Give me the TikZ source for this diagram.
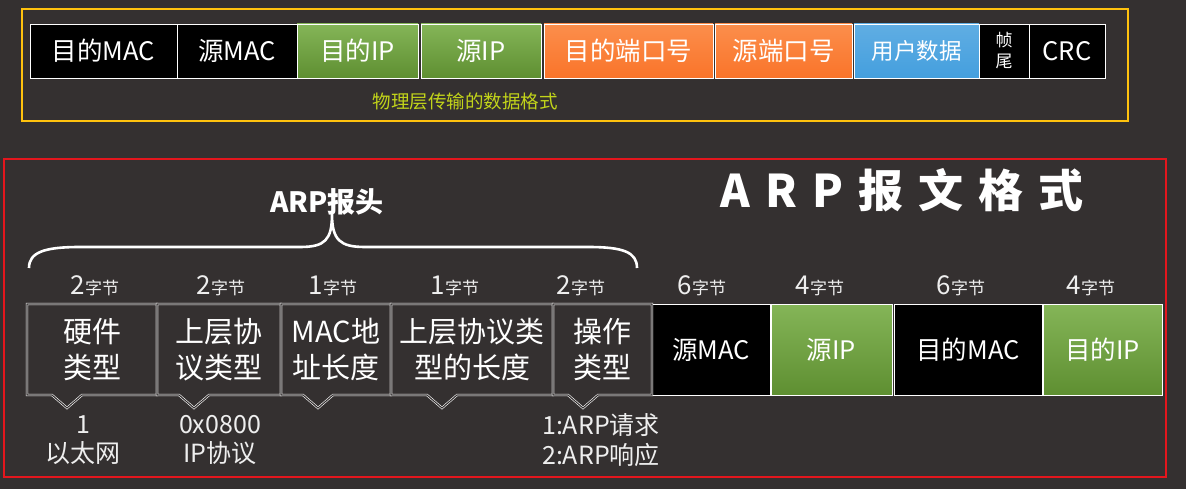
\documentclass[tikz,border=0pt]{standalone}
\usepackage{fontspec}
\setmainfont{Noto Sans CJK SC}
\usetikzlibrary{positioning, calc}
\definecolor{bg}{HTML}{343030}
\definecolor{ipgreen}{HTML}{6FA83A}
\definecolor{portorange}{HTML}{FA7A2C}
\definecolor{datablue}{HTML}{449FDE}
\definecolor{framey}{HTML}{FFC20E}
\definecolor{framer}{HTML}{E3161D}
\definecolor{capcolor}{HTML}{C2D41A}
\definecolor{lbl}{HTML}{EEEEEE}
\newcommand{\nbytes}[1]{{\fontsize{26}{26}\selectfont #1}{\fontsize{17}{17}\selectfont 字节}}
\newcommand{\tgap}{\hspace{15pt}}
\tikzset{
  field/.style={
    rectangle, inner sep=0pt, outer sep=0pt,
    minimum height=54pt, text=white,
    draw=white!85, line width=0.9pt,
    font=\fontsize{25.5}{28}\selectfont
  },
  mac field/.style={field, fill=black},
  ip field/.style={field, top color=ipgreen!85!white, bottom color=ipgreen!85!black},
  port field/.style={field, top color=portorange!85!white, bottom color=portorange!95!red},
  data field/.style={field, top color=datablue!85!white, bottom color=datablue},
  hdr cell/.style={
    rectangle, inner sep=0pt, outer sep=0pt,
    minimum height=91pt, text=white, align=center,
    font=\fontsize{29}{36}\selectfont
  },
  hdr line/.style={draw=white!80, line width=0.6pt, double=bg, double distance=1.1pt},
  body field/.style={minimum height=91pt},
  byte lbl/.style={text=lbl, inner sep=0pt},
  value lbl/.style={text=lbl, align=center, inner sep=0pt, font=\fontsize{25}{29.5}\selectfont}
}
\begin{document}
\begin{tikzpicture}[x=1pt, y=-1pt, node distance=0pt]
  \fill[bg] (0,0) rectangle (1186,489);
  \useasboundingbox (0,0) rectangle (1186,489);

  % physical layer frame
  \draw[framey, line width=2pt] (22,9) rectangle (1128,121);
  \node[mac field, anchor=north west, minimum width=147pt] (dmac) at (30,24) {目的MAC};
  \node[mac field, right=of dmac, minimum width=120pt] (smac) {源MAC};
  \node[ip field, right=of smac, minimum width=121pt] (dip) {目的IP};
  \node[ip field, right=3pt of dip, minimum width=120pt] (sip) {源IP};
  \node[port field, right=3pt of sip, minimum width=169pt] (dport) {目的端口号};
  \node[port field, right=2pt of dport, minimum width=137pt] (sport) {源端口号};
  \node[data field, right=2pt of sport, minimum width=125pt, font=\fontsize{22.5}{26}\selectfont] (udata) {用户数据};
  \node[mac field, right=of udata, minimum width=50pt, align=center, font=\fontsize{17}{21}\selectfont] (tail) {帧\\尾};
  \node[mac field, right=of tail, minimum width=76pt] (crc) {CRC};
  \node[text=capcolor, font=\fontsize{18.5}{20}\selectfont] (cap) at (465,102) {物理层传输的数据格式};

  % ARP packet
  \draw[framer, line width=2pt] (4,159) rectangle (1166,477);
  \node[text=white, font=\fontsize{45}{50}\selectfont\bfseries] (title) at (902,190)
    {A\tgap R\tgap P\tgap 报\tgap 文\tgap 格\tgap 式};
  \node[text=white, font=\fontsize{28}{30}\selectfont\bfseries] (arphdr) at (327,202) {ARP报头};
  \draw[white, line width=2.6pt]
    (29,268) .. controls (29,252) and (45,247) .. (80,247) -- (300,247)
    .. controls (325,247) and (332,240) .. (332,214)
    .. controls (332,240) and (340,247) .. (365,247) -- (588,247)
    .. controls (623,247) and (637,252) .. (637,268);

  \node[hdr cell, anchor=north west, minimum width=130pt] (hwtype) at (27,304) {硬件\\类型};
  \node[hdr cell, right=of hwtype, minimum width=124pt] (ptype) {上层协\\议类型};
  \node[hdr cell, right=of ptype, minimum width=110pt] (hwlen) {MAC地\\址长度};
  \node[hdr cell, right=of hwlen, minimum width=162pt] (plen) {上层协议类\\型的长度};
  \node[hdr cell, right=of plen, minimum width=99pt] (op) {操作\\类型};
  \node[mac field, body field, right=of op, minimum width=118pt] (srcmac) {源MAC};
  \node[ip field, body field, right=1pt of srcmac, minimum width=121pt] (srcip) {源IP};
  \node[mac field, body field, right=2pt of srcip, minimum width=148pt] (dstmac) {目的MAC};
  \node[ip field, body field, right=1pt of dstmac, minimum width=119pt] (dstip) {目的IP};

  \draw[hdr line] (hwtype.north west) -- (hwtype.north east) -- (hwtype.south east)
    -- ($(hwtype.south west)+(55,0)$) -- ($(hwtype.south west)+(40,13)$)
    -- ($(hwtype.south west)+(25,0)$) -- (hwtype.south west) -- cycle;
  \draw[hdr line] (ptype.north west) -- (ptype.north east) -- (ptype.south east)
    -- ($(ptype.south west)+(52,0)$) -- ($(ptype.south west)+(37,13)$)
    -- ($(ptype.south west)+(22,0)$) -- (ptype.south west) -- cycle;
  \draw[hdr line] (hwlen.north west) -- (hwlen.north east) -- (hwlen.south east)
    -- ($(hwlen.south west)+(52,0)$) -- ($(hwlen.south west)+(37,13)$)
    -- ($(hwlen.south west)+(22,0)$) -- (hwlen.south west) -- cycle;
  \draw[hdr line] (plen.north west) -- (plen.north east) -- (plen.south east)
    -- ($(plen.south west)+(66,0)$) -- ($(plen.south west)+(51,13)$)
    -- ($(plen.south west)+(36,0)$) -- (plen.south west) -- cycle;
  \draw[hdr line] (op.north west) -- (op.north east) -- (op.south east)
    -- ($(op.south west)+(45,0)$) -- ($(op.south west)+(30,13)$)
    -- ($(op.south west)+(15,0)$) -- (op.south west) -- cycle;

  % field sizes
  \node[byte lbl] (n1) at (95,286) {\nbytes{2}};
  \node[byte lbl] (n2) at (221,286) {\nbytes{2}};
  \node[byte lbl] (n3) at (333,286) {\nbytes{1}};
  \node[byte lbl] (n4) at (455,286) {\nbytes{1}};
  \node[byte lbl] (n5) at (581,286) {\nbytes{2}};
  \node[byte lbl] (n6) at (702,286) {\nbytes{6}};
  \node[byte lbl] (n7) at (820,286) {\nbytes{4}};
  \node[byte lbl] (n8) at (961,286) {\nbytes{6}};
  \node[byte lbl] (n9) at (1091,286) {\nbytes{4}};

  % values
  \node[value lbl] (v1) at (83,440) {1\\以太网};
  \node[value lbl] (v2) at (220,440) {0x0800\\IP协议};
  \node[value lbl] (v5) at (601,440) {1:ARP请求\\2:ARP响应};
\end{tikzpicture}
\end{document}
